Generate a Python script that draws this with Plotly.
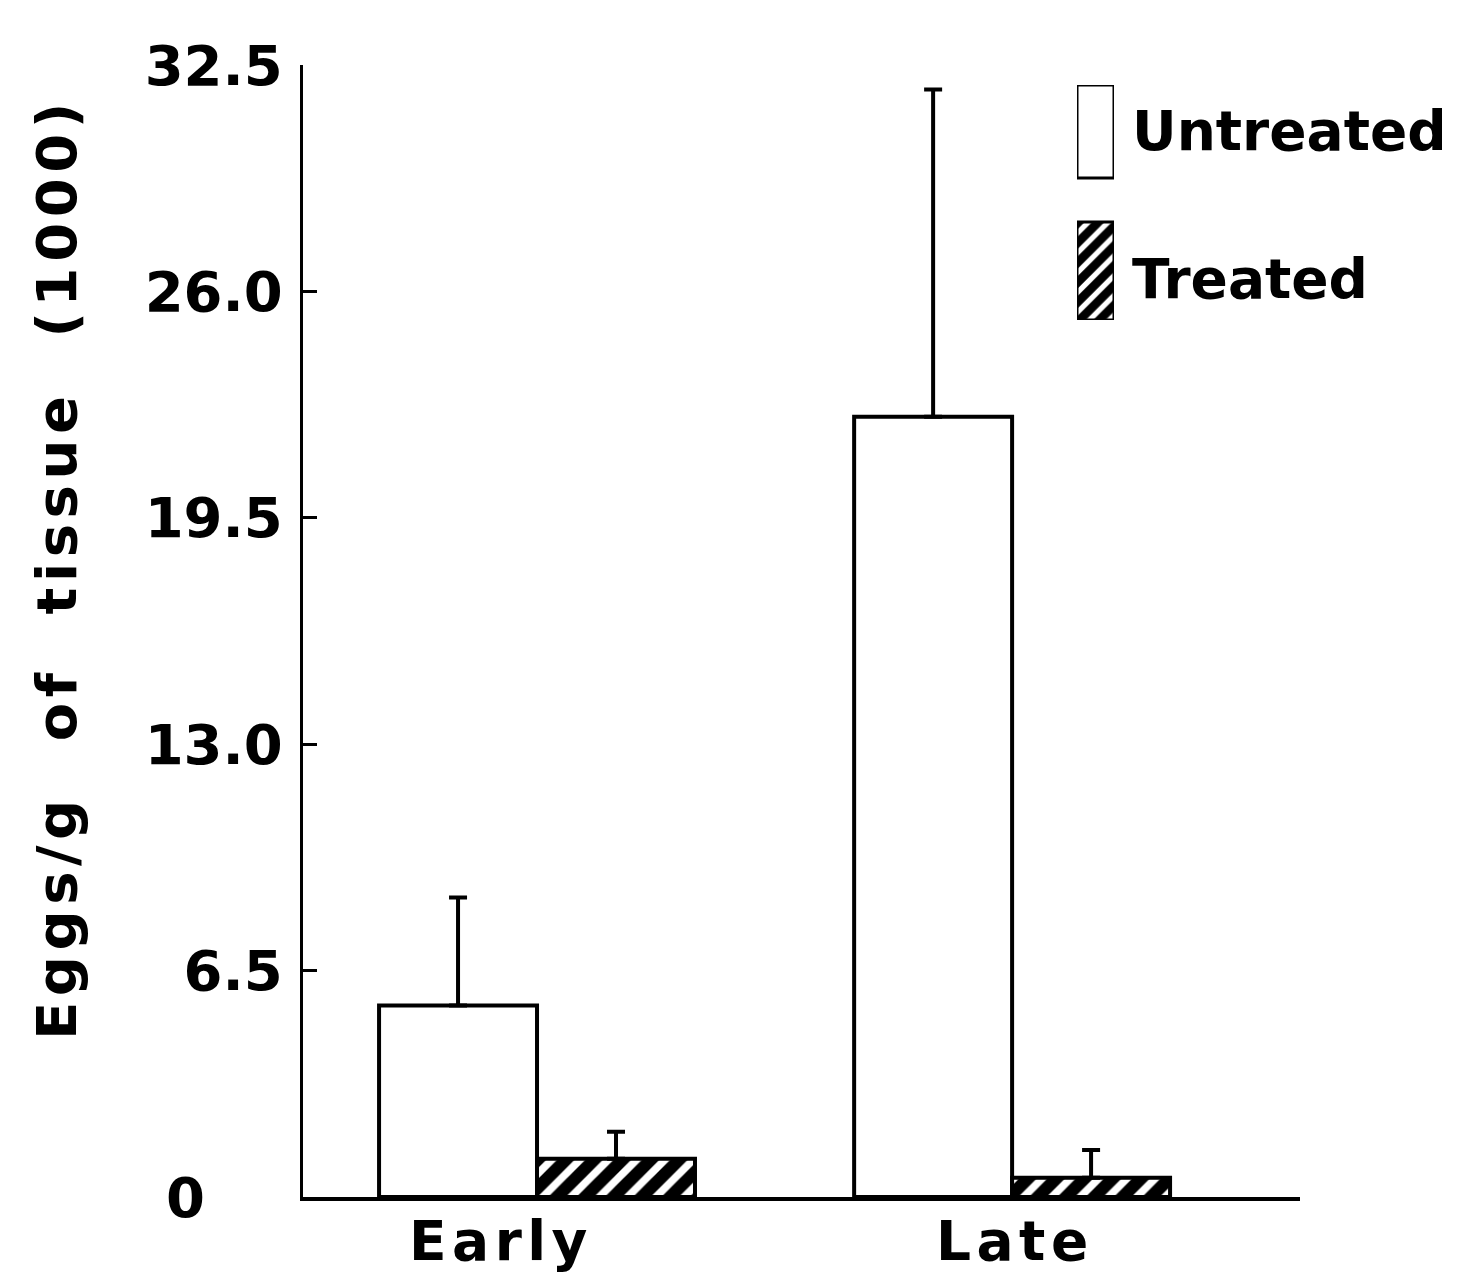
import plotly.graph_objects as go

# ---- data ----
categories = ["Early", "Late"]
series_names = ["Untreated", "Treated"]
untreated = [5.5, 22.4]
untreated_err = [3.1, 9.4]
treated = [1.1, 0.55]
treated_err = [0.77, 0.8]
y_ticks = [0, 6.5, 13.0, 19.5, 26.0, 32.5]
y_tick_labels = ["0", "6.5", "13.0", "19.5", "26.0", "32.5"]
y_title = "Eggs/g of tissue (1000)"

FONT = "DejaVu Sans"
HAIR = "\u200a"
FIG = "\u2007"


def spaced(s, sep):
    return sep.join(list(s))


def spaced_words(s, sep, wordsep):
    return wordsep.join(spaced(w, sep) for w in s.split(" "))


tick_text = [t + FIG + FIG if t == "0" else t for t in y_tick_labels]

hatch = dict(shape="/", fgcolor="black", bgcolor="white", size=20,
             solidity=0.62, fgopacity=1, fillmode="replace")
hatch_small = dict(shape="/", fgcolor="black", bgcolor="white", size=14,
                   solidity=0.62, fgopacity=1, fillmode="replace")

fig = go.Figure()

fig.add_trace(go.Bar(
    x=categories, y=untreated, name=series_names[0],
    marker=dict(color="white", line=dict(color="black", width=4)),
    error_y=dict(type="data", symmetric=False, array=untreated_err,
                 arrayminus=[0] * len(untreated_err), color="black",
                 thickness=4, width=9),
    showlegend=False,
))
fig.add_trace(go.Bar(
    x=categories, y=treated, name=series_names[1],
    marker=dict(color="black", line=dict(color="black", width=4),
                pattern=hatch),
    error_y=dict(type="data", symmetric=False, array=treated_err,
                 arrayminus=[0] * len(treated_err), color="black",
                 thickness=4, width=9),
    showlegend=False,
))

# legend swatches drawn as bars on a small hidden subplot
fig.add_trace(go.Bar(
    x=[0], y=[93], base=[142], width=1, offset=-0.5,
    xaxis="x2", yaxis="y2", showlegend=False, hoverinfo="skip",
    marker=dict(color="white", line=dict(color="black", width=3)),
))
fig.add_trace(go.Bar(
    x=[0], y=[98], base=[0], width=1, offset=-0.5,
    xaxis="x2", yaxis="y2", showlegend=False, hoverinfo="skip",
    marker=dict(color="black", line=dict(color="black", width=3),
                pattern=hatch_small),
))

annotations = []
# legend labels
for name, ypix in zip(series_names, [131, 279]):
    annotations.append(dict(
        text=name, xref="paper", yref="paper",
        x=(1130 - 303) / 997, y=(1197 - ypix) / 1132,
        xanchor="left", yanchor="middle", showarrow=False,
        font=dict(family=FONT, size=55, color="black", weight="bold"),
    ))
# category labels
for cat, xs in zip(categories, [-39, 0]):
    annotations.append(dict(
        text=spaced(cat, HAIR), xref="x", yref="paper", x=cat, y=0,
        xanchor="center", yanchor="top", xshift=xs, yshift=-10,
        showarrow=False,
        font=dict(family=FONT, size=55, color="black", weight="bold"),
    ))
# y title
annotations.append(dict(
    text=spaced_words(y_title, HAIR, "   "), xref="paper", yref="paper",
    x=(56 - 303) / 997, y=(1197 - 572) / 1132, textangle=-90,
    xanchor="center", yanchor="middle", showarrow=False,
    font=dict(family=FONT, size=56, color="black", weight="bold"),
))

fig.update_layout(
    width=1480, height=1277, autosize=False,
    margin=dict(l=303, r=180, t=65, b=80),
    paper_bgcolor="white", plot_bgcolor="white",
    barmode="group", bargap=0.335, bargroupgap=0,
    showlegend=False,
    annotations=annotations,
    xaxis=dict(
        type="category", range=[-0.4926, 1.606],
        showline=True, linecolor="black", linewidth=4,
        showticklabels=False, ticks="", showgrid=False, zeroline=False,
    ),
    yaxis=dict(
        range=[0, 32.5], tickvals=y_ticks, ticktext=tick_text,
        ticks="inside", ticklen=14, tickwidth=3, tickcolor="black",
        showline=True, linecolor="black", linewidth=3,
        showgrid=False, zeroline=False, ticklabelstandoff=6,
        tickfont=dict(family=FONT, size=56, color="black", weight="bold"),
    ),
    xaxis2=dict(domain=[(1077 - 303) / 997, (1114 - 303) / 997],
                anchor="y2", range=[-0.5, 0.5], visible=False),
    yaxis2=dict(domain=[(1197 - 320) / 1132, (1197 - 85) / 1132],
                anchor="x2", range=[0, 235], visible=False),
)

fig.write_html("out.html")
